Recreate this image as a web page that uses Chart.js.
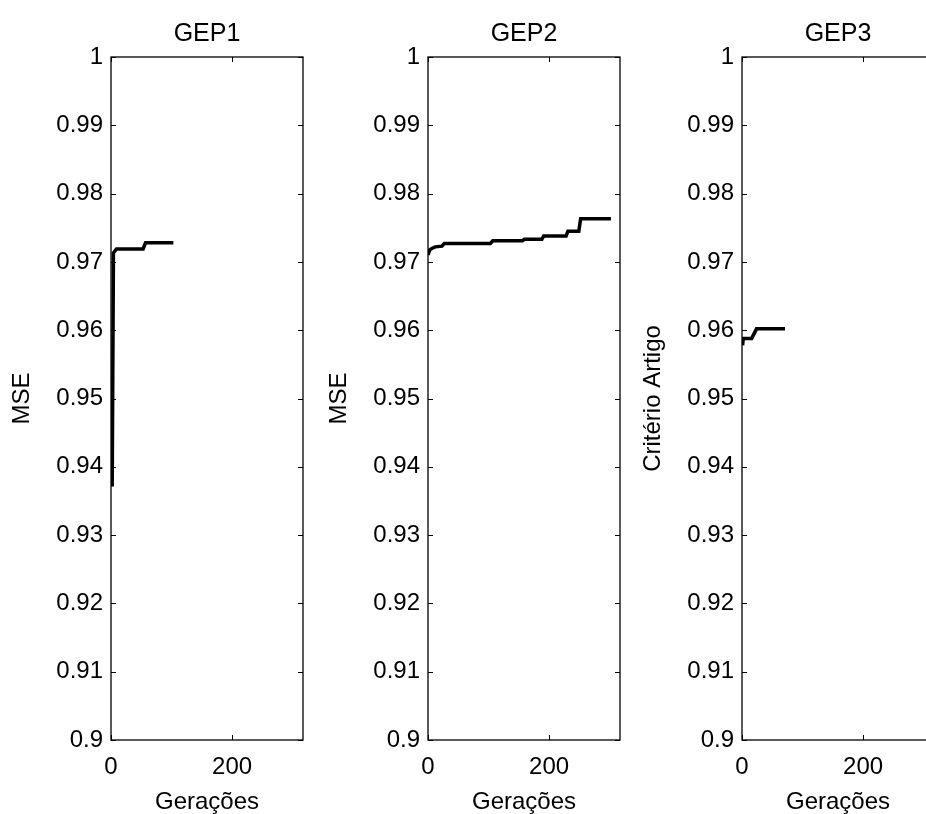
<!DOCTYPE html>
<html>
<head>
<meta charset="utf-8">
<script src="https://cdn.jsdelivr.net/npm/chart.js@4"></script>
<style>
  html, body { margin: 0; padding: 0; background: #fff; overflow: hidden; width: 926px; height: 814px; }
  .panel { position: absolute; top: 0; width: 312px; height: 814px; }
</style>
</head>
<body>
<div class="panel" style="left:1px"><canvas id="gep1" width="312" height="814"></canvas></div>
<div class="panel" style="left:318px"><canvas id="gep2" width="312" height="814"></canvas></div>
<div class="panel" style="left:632px"><canvas id="gep3" width="312" height="814"></canvas></div>
<script>
// values
const titles = ["GEP1", "GEP2", "GEP3"];
const yLabels = ["MSE", "MSE", "Critério Artigo"];
const xLabel = "Gerações";

const xTickValues = [0, 200];
const yTickValues = [0.9, 0.91, 0.92, 0.93, 0.94, 0.95, 0.96, 0.97, 0.98, 0.99, 1];

const gep1X = [2, 4, 9, 53, 57, 103];
const gep1Y = [0.9371, 0.9713, 0.9719, 0.9719, 0.9728, 0.9728];

const gep2X = [0, 3, 7, 12, 23, 27, 103, 107, 156, 159, 188, 191, 228, 231, 249, 252, 302];
const gep2Y = [0.9710, 0.9718, 0.9720, 0.9722, 0.9723, 0.9727, 0.9727, 0.9731, 0.9731,
               0.9733, 0.9733, 0.9738, 0.9738, 0.9745, 0.9745, 0.9763, 0.9763];

const gep3X = [1, 2, 16, 24, 71];
const gep3Y = [0.9578, 0.9588, 0.9588, 0.9602, 0.9602];

Chart.defaults.font.family = '"Liberation Sans", Arial, sans-serif';
Chart.defaults.font.size = 24;
Chart.defaults.color = "#000";

// axes box with small inward ticks on all four sides
const boxTicks = {
  id: "boxTicks",
  afterDatasetsDraw(chart) {
    const { ctx, chartArea: a, scales: { x, y } } = chart;
    ctx.save();
    ctx.strokeStyle = "#000";
    ctx.lineWidth = 1.3;
    ctx.strokeRect(a.left, a.top, a.right - a.left, a.bottom - a.top);
    ctx.lineWidth = 1;
    ctx.beginPath();
    yTickValues.forEach((v) => {
      const py = Math.round(y.getPixelForValue(v)) + 0.5;
      ctx.moveTo(a.left, py); ctx.lineTo(a.left + 5, py);
      ctx.moveTo(a.right - 5, py); ctx.lineTo(a.right, py);
    });
    xTickValues.forEach((v) => {
      const px = Math.round(x.getPixelForValue(v)) + 0.5;
      ctx.moveTo(px, a.top); ctx.lineTo(px, a.top + 5);
      ctx.moveTo(px, a.bottom - 5); ctx.lineTo(px, a.bottom);
    });
    ctx.stroke();
    ctx.restore();
  },
};

function formatTick(v) {
  return String(Number(v.toFixed(2)));
}

function makePanel(id, title, yLabel, xs, ys) {
  const ctx = document.getElementById(id).getContext("2d");
  new Chart(ctx, {
    type: "line",
    data: {
      datasets: [
        {
          data: xs.map((xv, i) => ({ x: xv, y: ys[i] })),
          borderColor: "#000",
          borderWidth: 3.5,
          pointRadius: 0,
          tension: 0,
          fill: false,
        },
      ],
    },
    options: {
      responsive: false,
      animation: false,
      devicePixelRatio: 1,
      layout: { padding: { left: 0, right: 10, top: 0, bottom: 0 } },
      plugins: {
        legend: { display: false },
        tooltip: { enabled: false },
        title: {
          display: true,
          text: title,
          fullSize: false,
          font: { size: 25, weight: "normal" },
          padding: { top: 19, bottom: 8 },
        },
      },
      scales: {
        x: {
          type: "linear",
          min: 0,
          max: 317,
          grid: { display: false, drawTicks: false },
          border: { display: false },
          afterBuildTicks: (scale) => {
            scale.ticks = xTickValues.map((v) => ({ value: v }));
          },
          afterFit: (scale) => { scale.height = 74; },
          ticks: { padding: 13, maxRotation: 0, autoSkip: false },
          title: {
            display: true,
            text: xLabel,
            font: { size: 24, lineHeight: 1 },
            padding: { top: 0, bottom: 0 },
          },
        },
        y: {
          min: 0.9,
          max: 1,
          grid: { display: false, drawTicks: false },
          border: { display: false },
          afterBuildTicks: (scale) => {
            scale.ticks = yTickValues.map((v) => ({ value: v }));
          },
          afterFit: (scale) => { scale.width = 110; },
          ticks: { padding: 8, callback: (v) => formatTick(v), autoSkip: false },
          title: { display: true, text: yLabel, padding: { top: 7, bottom: 0 } },
        },
      },
    },
    plugins: [boxTicks],
  });
}

makePanel("gep1", titles[0], yLabels[0], gep1X, gep1Y);
makePanel("gep2", titles[1], yLabels[1], gep2X, gep2Y);
makePanel("gep3", titles[2], yLabels[2], gep3X, gep3Y);
</script>
</body>
</html>
